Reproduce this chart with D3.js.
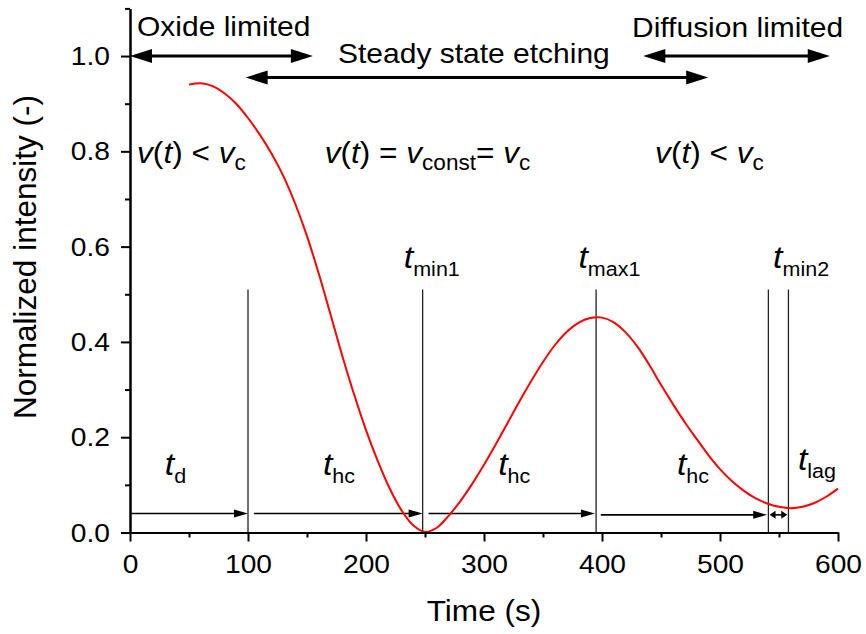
<!DOCTYPE html>
<html>
<head>
<meta charset="utf-8">
<script src="https://cdn.jsdelivr.net/npm/d3@7/dist/d3.min.js"></script>
<style>
    body { margin: 0; background: #fff; }
    svg { display: block; font-family: "Liberation Sans", Arial, sans-serif; }
    text { white-space: pre; fill: #000; }
</style>
</head>
<body>
<div id="chart"></div>
<script>
// Values
var timeS = [50, 60, 70, 80, 90, 100, 110, 120, 130, 140, 150, 160, 170, 180, 190, 200,
    210, 220, 230, 240, 250, 260, 270, 280, 290, 300, 310, 320, 330, 340, 350, 360, 370,
    380, 390, 400, 410, 420, 430, 440, 450, 460, 470, 480, 490, 500, 510, 520, 530, 540,
    550, 560, 570, 580, 590, 600];
var intensity = [0.940, 0.943, 0.937, 0.922, 0.900, 0.870, 0.835, 0.795, 0.748, 0.690,
    0.622, 0.543, 0.457, 0.370, 0.289, 0.215, 0.150, 0.093, 0.047, 0.015, 0.001, 0.010,
    0.035, 0.066, 0.102, 0.142, 0.185, 0.230, 0.275, 0.318, 0.358, 0.393, 0.421, 0.440,
    0.450, 0.451, 0.441, 0.420, 0.390, 0.352, 0.310, 0.270, 0.232, 0.197, 0.163, 0.133,
    0.108, 0.088, 0.072, 0.061, 0.054, 0.051, 0.054, 0.062, 0.075, 0.092];
var markerTimes = [100, 248, 395, 541, 558];
var xTicks = [0, 100, 200, 300, 400, 500, 600];
var xMinorTicks = [50, 150, 250, 350, 450, 550];
var yTicks = [0, 0.2, 0.4, 0.6, 0.8, 1.0];
var yMinorTicks = [0.1, 0.3, 0.5, 0.7, 0.9, 1.1];

var chart = (function () {

    "use strict";

    var width = 866,
        height = 634,
        SX = 1.06, // the figure's lettering is a little wide
        svg, x, y;

    /* Text with italic parts and subscripts */

    function label(px, py, parts, opts) {
        var sx = opts.sx || SX,
            tr = "translate(" + px + "," + py + ") scale(" + sx + ",1)" +
                (opts.rotate ? " rotate(" + opts.rotate + ")" : ""),
            text = svg.append("g").attr("transform", tr)
                .append("text")
                .attr("font-size", opts.size)
                .attr("text-anchor", opts.anchor || "start"),
            shift = 0;

        parts.forEach(function (p) {
            var span = text.append("tspan").text(p.t),
                target = p.sub ? opts.drop : 0;
            if (p.i) { span.attr("font-style", "italic"); }
            if (p.sub) { span.attr("font-size", opts.subSize); }
            if (target !== shift) {
                span.attr("dy", target - shift);
                shift = target;
            }
        });
    }

    function arrowHead(px, py, dir, len, half) {
        svg.append("path")
            .attr("d", "M" + px + "," + py + "L" + (px - dir * len) + "," + (py - half) +
                "L" + (px - dir * len) + "," + (py + half) + "Z")
            .attr("fill", "#000");
    }

    function arrow(x0, x1, yv, opts) {
        var py = y(yv), a = x(x0), b = x(x1);
        svg.append("line")
            .attr("x1", opts.startHead ? a + opts.len - 2 : a)
            .attr("x2", b - opts.len + 2)
            .attr("y1", py).attr("y2", py)
            .attr("stroke", "#000").attr("stroke-width", opts.stroke);
        arrowHead(b, py, 1, opts.len, opts.half);
        if (opts.startHead) { arrowHead(a, py, -1, opts.len, opts.half); }
    }

    function drawAxes() {
        var xAxis = svg.append("g")
            .attr("transform", "translate(0," + y(0) + ")")
            .call(d3.axisBottom(x).tickValues(xTicks).tickSize(9).tickSizeOuter(0).tickPadding(13));
        svg.append("g")
            .attr("transform", "translate(0," + y(0) + ")")
            .call(d3.axisBottom(x).tickValues(xMinorTicks).tickSize(5).tickSizeOuter(0).tickFormat(""));

        var yAxis = svg.append("g")
            .attr("transform", "translate(" + x(0) + ",0)")
            .call(d3.axisLeft(y).tickValues(yTicks).tickSize(9).tickSizeOuter(0).tickFormat(d3.format(".1f")));
        svg.append("g")
            .attr("transform", "translate(" + x(0) + ",0)")
            .call(d3.axisLeft(y).tickValues(yMinorTicks).tickSize(5).tickSizeOuter(0).tickFormat(""));

        svg.selectAll(".domain, .tick line")
            .attr("stroke", "#000").attr("stroke-width", 2);

        xAxis.selectAll("text")
            .attr("font-size", 26.6).attr("font-family", null)
            .attr("transform", "scale(" + SX + ",1)");
        yAxis.selectAll("text")
            .attr("font-size", 26.6).attr("font-family", null)
            .attr("x", 0)
            .attr("transform", "translate(-20,0) scale(" + SX + ",1)");

        label((x(0) + x(600)) / 2, 621, [{t: "Time (s)"}], {size: 29.8, anchor: "middle"});
        label(36, 257, [{t: "Normalized intensity (-)"}],
            {size: 31.5, anchor: "middle", rotate: -90, sx: 1});
    }

    function render() {
        svg = d3.select("#chart").append("svg")
            .attr("width", width)
            .attr("height", height);

        x = d3.scaleLinear().domain([0, 600]).range([130, 838]);
        y = d3.scaleLinear().domain([0, 1.1]).range([532.5, 8.4]);

        var pts = timeS.map(function (t, i) { return [t, intensity[i]]; });

        // marker lines
        svg.selectAll(".marker")
            .data(markerTimes)
            .enter().append("line")
            .attr("class", "marker")
            .attr("x1", function (d) { return x(d); })
            .attr("x2", function (d) { return x(d); })
            .attr("y1", y(0))
            .attr("y2", y(0.51))
            .attr("stroke", "#222")
            .attr("stroke-width", 1.3);

        // time interval arrows
        var thin = {stroke: 1.6, len: 14, half: 4};
        arrow(0, 100, 0.04, thin);
        arrow(105, 248, 0.04, thin);
        arrow(253, 394, 0.04, thin);
        arrow(399, 540, 0.037, thin);
        arrow(542, 557, 0.037, {stroke: 1.6, len: 6, half: 4, startHead: true});

        // regime arrows
        var thick = {stroke: 3, len: 22, half: 7, startHead: true};
        arrow(0, 155, 1.0, thick);
        arrow(98, 490, 0.955, thick);
        arrow(435, 593, 1.0, thick);

        svg.append("path")
            .datum(pts)
            .attr("fill", "none")
            .attr("stroke", "#ff0000")
            .attr("stroke-width", 2)
            .attr("d", d3.line()
                .x(function (d) { return x(d[0]); })
                .y(function (d) { return y(d[1]); })
                .curve(d3.curveCatmullRom.alpha(0.5)));

        drawAxes();

        // regime titles
        var big = {size: 28.3};
        label(137, 36, [{t: "Oxide limited"}], big);
        label(338, 63, [{t: "Steady state etching"}], big);
        label(632, 37, [{t: "Diffusion limited"}], big);

        // velocity relations
        var vs = {size: 29.8, subSize: 21.3, drop: 7};
        label(x(6), y(0.775), [{t: "v", i: 1}, {t: "("}, {t: "t", i: 1}, {t: ") < "},
            {t: "v", i: 1}, {t: "c", sub: 1}], vs);
        label(x(165), y(0.775), [{t: "v", i: 1}, {t: "("}, {t: "t", i: 1}, {t: ") = "},
            {t: "v", i: 1}, {t: "const", sub: 1}, {t: "= "}, {t: "v", i: 1}, {t: "c", sub: 1}], vs);
        label(x(445), y(0.775), [{t: "v", i: 1}, {t: "("}, {t: "t", i: 1}, {t: ") < "},
            {t: "v", i: 1}, {t: "c", sub: 1}], vs);

        // time labels
        var ts = {size: 32, subSize: 20.3, drop: 8};
        label(x(29.5), y(0.12), [{t: "t", i: 1}, {t: "d", sub: 1}], ts);
        label(x(163.5), y(0.12), [{t: "t", i: 1}, {t: "hc", sub: 1}], ts);
        label(x(312), y(0.12), [{t: "t", i: 1}, {t: "hc", sub: 1}], ts);
        label(x(463.5), y(0.12), [{t: "t", i: 1}, {t: "hc", sub: 1}], ts);
        label(x(566), y(0.131), [{t: "t", i: 1}, {t: "lag", sub: 1}], ts);
        label(x(232), y(0.555), [{t: "t", i: 1}, {t: "min1", sub: 1}], ts);
        label(x(380), y(0.555), [{t: "t", i: 1}, {t: "max1", sub: 1}], ts);
        label(x(545), y(0.555), [{t: "t", i: 1}, {t: "min2", sub: 1}], ts);
    }

    return {
        render: render
    };

}());

chart.render();
</script>
</body>
</html>
